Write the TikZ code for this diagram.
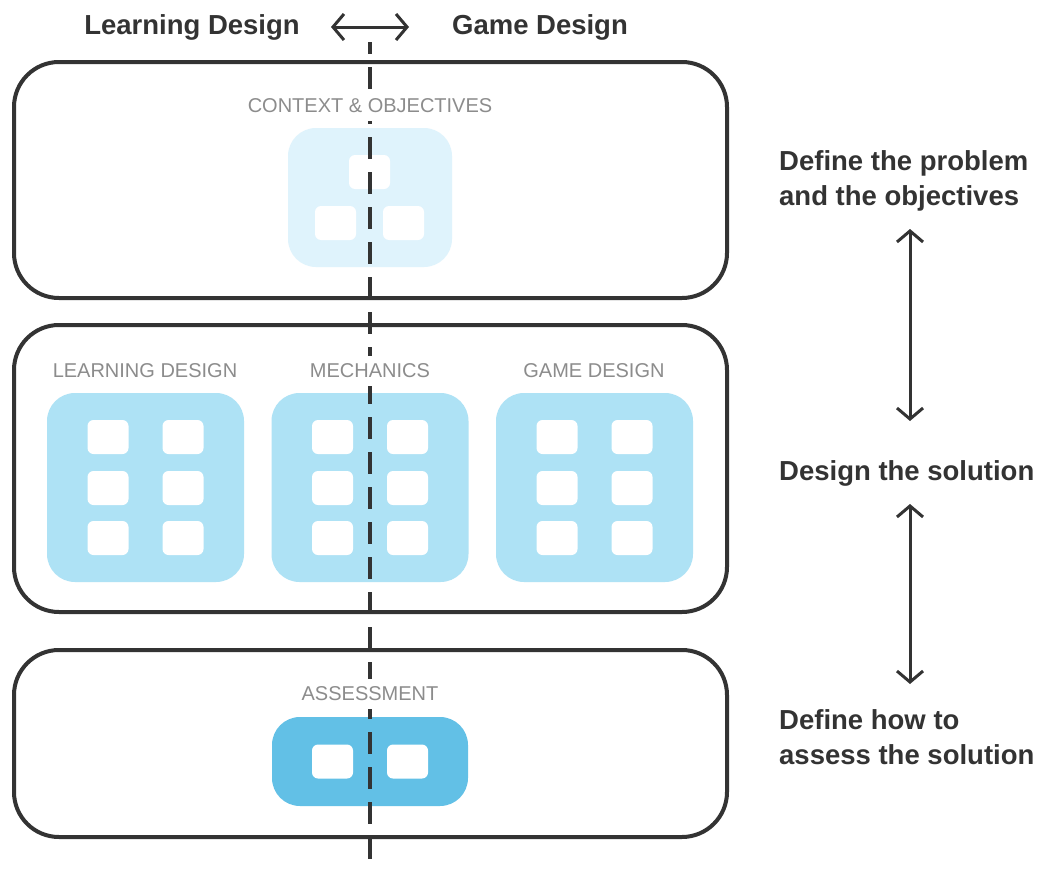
\documentclass[tikz,border=0pt]{standalone}
\usepackage{fontspec}
\setmainfont{Liberation Sans}
\usetikzlibrary{arrows.meta}
\definecolor{ink}{HTML}{333333}
\definecolor{lbl}{HTML}{8C8C8C}
\definecolor{paleblue}{HTML}{DFF3FC}
\definecolor{midblue}{HTML}{AEE2F5}
\definecolor{deepblue}{HTML}{62C0E6}
\tikzset{
  panel/.style={draw=ink, line width=4pt, rounded corners=45pt, inner sep=0pt, fill=white},
  tile/.style={rounded corners=28pt, inner sep=0pt, draw=none},
  cell/.style={fill=white, rounded corners=6pt, minimum width=41pt, minimum height=34pt, inner sep=0pt},
  caplabel/.style={text=lbl, fill=white, font=\fontsize{20}{23}\selectfont, inner xsep=2pt, inner ysep=8pt},
  head/.style={text=ink, font=\bfseries\fontsize{27.5}{32}\selectfont, inner sep=0pt},
  side/.style={text=ink, font=\bfseries\fontsize{27.5}{35}\selectfont, inner sep=0pt, align=left, anchor=west},
  dbl/.style={draw=ink, line width=3pt, {Straight Barb[length=11pt,width=26pt,line width=3pt]}-{Straight Barb[length=11pt,width=26pt,line width=3pt]}},
  divider/.style={draw=ink, line width=3.5pt, dash pattern=on 22pt off 13pt, dash phase=10pt}
}
\begin{document}
\begin{tikzpicture}[x=1pt,y=-1pt]
\useasboundingbox (0,0) rectangle (1042,870);
% header
\node[head] (hl) at (192,27) {Learning Design};
\node[head] (hg) at (540,27) {Game Design};
\coordinate (ha) at (331,27);
\coordinate (hb) at (409,27);
\draw[dbl] (ha) -- (hb);
% panels
\node[panel, minimum width=713pt, minimum height=236pt] (p1) at (370.5,180) {};
\node[panel, minimum width=713pt, minimum height=287pt] (p2) at (370.5,468.5) {};
\node[panel, minimum width=713pt, minimum height=187pt] (p3) at (370.5,743.5) {};
% tiles
\node[tile, fill=paleblue, minimum width=164pt, minimum height=139pt] (t1) at (370,197.5) {};
\node[cell] (c1a) at (369.5,172) {};
\node[cell] (c1b) at (335.5,223) {};
\node[cell] (c1c) at (403.5,223) {};
\foreach \n/\cx in {ld/145.5, me/370, gd/594.5}{
  \node[tile, fill=midblue, minimum width=197pt, minimum height=189pt] (\n) at (\cx,487.5) {};
  \foreach \r/\cy in {1/437, 2/488, 3/538}{
    \node[cell] (\n l\r) at ([xshift=-37.5pt]\cx,\cy) {};
    \node[cell] (\n r\r) at ([xshift=37.5pt]\cx,\cy) {};
  }
}
\node[tile, fill=deepblue, minimum width=196pt, minimum height=89pt] (t5) at (370,761.5) {};
\node[cell] (c5a) at (332.5,761.5) {};
\node[cell] (c5b) at (407.5,761.5) {};
% divider
\coordinate (dtop) at (370,42);
\coordinate (dbot) at (370,870);
\draw[divider] (dtop) -- (dbot);
% section labels (over the divider)
\node[caplabel] (c1) at (370,106) {CONTEXT \& OBJECTIVES};
\node[caplabel] (c2) at (145,371) {LEARNING DESIGN};
\node[caplabel] (c3) at (370,371) {MECHANICS};
\node[caplabel] (c4) at (594,371) {GAME DESIGN};
\node[caplabel] (c5) at (370,694) {ASSESSMENT};
% right side
\node[side] (s1) at (779,181) {Define the problem\\and the objectives};
\node[side] (s2) at (779,473) {Design the solution};
\node[side] (s3) at (779,737) {Define how to\\assess the solution};
\coordinate (a1) at (910,229);
\coordinate (a2) at (910,421);
\coordinate (a3) at (910,504);
\coordinate (a4) at (910,684);
\draw[dbl] (a1) -- (a2);
\draw[dbl] (a3) -- (a4);
\end{tikzpicture}
\end{document}
